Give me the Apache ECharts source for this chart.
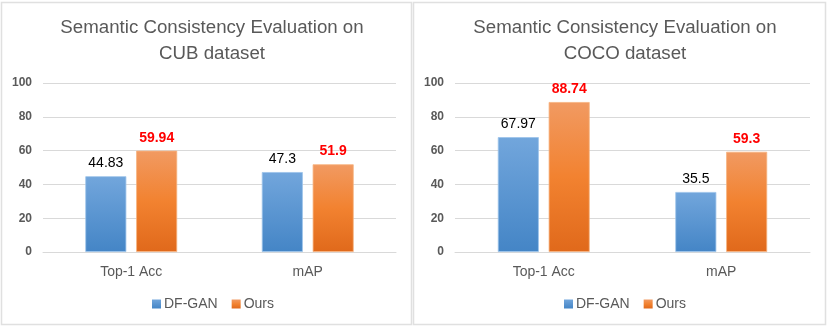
<!DOCTYPE html>
<html><head><meta charset="utf-8">
<script src="https://cdn.jsdelivr.net/npm/echarts@6/dist/echarts.min.js"></script>
<style>html,body{margin:0;padding:0;background:#fff}#c{width:831px;height:328px}</style>
</head><body><div id="c"></div>
<script>
const categories = ['Top-1 Acc', 'mAP'];
const seriesNames = ['DF-GAN', 'Ours'];
const cubDFGAN = [44.83, 47.3];
const cubOurs = [59.94, 51.9];
const cocoDFGAN = [67.97, 35.5];
const cocoOurs = [88.74, 59.3];
const titles = ['Semantic Consistency Evaluation on\nCUB dataset', 'Semantic Consistency Evaluation on\nCOCO dataset'];
const yMin = 0, yMax = 100, yInterval = 20;

const FONT = 'Liberation Sans';
const GRAY = '#595959';
const blueGrad = new echarts.graphic.LinearGradient(0,0,0,1,[{offset:0,color:'#72a6dc'},{offset:1,color:'#4485c6'}]);
const orangeGrad = new echarts.graphic.LinearGradient(0,0,0,1,[{offset:0,color:'#f19a62'},{offset:0.5,color:'#f28230'},{offset:1,color:'#e0691b'}]);

const grids = [
  {left: 43, right: 435, top: 83, bottom: 76},
  {left: 455, right: 21, top: 83, bottom: 76}
];
const panelCenters = [207, 620];
const legendLefts = [152, 564];
const data = [[cubDFGAN, cubOurs], [cocoDFGAN, cocoOurs]];

const option = {
  animation: false,
  backgroundColor: '#fff',
  textStyle: {fontFamily: FONT},
  graphic: [
    {type:'rect', shape:{x:1.5,y:2.5,width:410,height:322}, style:{fill:'none', stroke:'#e0e0e0', lineWidth:1.5}, z:-1},
    {type:'rect', shape:{x:413.5,y:2.5,width:412,height:322}, style:{fill:'none', stroke:'#e0e0e0', lineWidth:1.5}, z:-1}
  ],
  title: titles.map((t,i)=>({
    text: t, left: panelCenters[i], top: 10, textAlign: 'center',
    textStyle: {fontFamily: FONT, fontSize: 18.7, fontWeight: 'normal', color: GRAY, lineHeight: 26}
  })),
  legend: [0,1].map(i=>({
    data: seriesNames, left: legendLefts[i], top: 297, padding: 0,
    itemWidth: 9, itemHeight: 9, itemGap: 14, icon: 'rect',
    itemStyle: {borderWidth: 0},
    textStyle: {fontFamily: FONT, fontSize: 14, color: GRAY, padding:[0,0,0,-2]}
  })),
  grid: grids,
  xAxis: [0,1].map(i=>({
    type: 'category', gridIndex: i, data: categories,
    axisLine: {lineStyle: {color: '#d9d9d9'}}, axisTick: {show: false},
    axisLabel: {fontFamily: FONT, fontSize: 14, color: GRAY, margin: 13}
  })),
  yAxis: [0,1].map(i=>({
    type: 'value', gridIndex: i, min: yMin, max: yMax, interval: yInterval,
    axisLine: {show: false}, axisTick: {show: false},
    splitLine: {lineStyle: {color: '#d9d9d9'}},
    axisLabel: {fontFamily: FONT, fontSize: 12, fontWeight: 'bold', color: GRAY, margin: 11}
  })),
  series: []
};
[0,1].forEach(i=>{
  option.series.push({
    name: seriesNames[0], type: 'bar', xAxisIndex: i, yAxisIndex: i, data: data[i][0],
    barWidth: 41, barGap: '24%',
    itemStyle: {color: blueGrad, borderColor: '#9cc3ea', borderWidth: 0.8},
    label: {show: true, position: 'top', distance: 6, fontFamily: FONT, fontSize: 14, color: '#000'}
  });
  option.series.push({
    name: seriesNames[1], type: 'bar', xAxisIndex: i, yAxisIndex: i, data: data[i][1],
    barWidth: 41, barGap: '24%',
    itemStyle: {color: orangeGrad, borderColor: '#f6b27f', borderWidth: 0.8},
    label: {show: true, position: 'top', distance: 6, fontFamily: FONT, fontSize: 14, fontWeight: 'bold', color: '#ff0000'}
  });
});
const chart = echarts.init(document.getElementById('c'), null, {renderer: 'canvas'});
chart.setOption(option);
</script></body></html>
